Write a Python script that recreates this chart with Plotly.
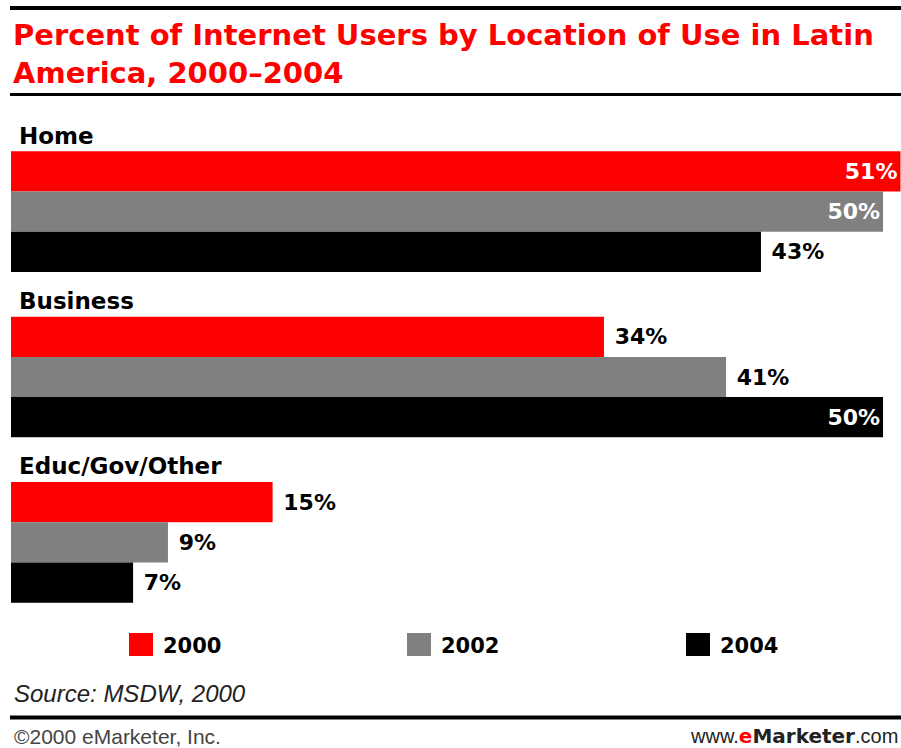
import plotly.graph_objects as go

# Data
categories = ["Home", "Business", "Educ/Gov/Other"]
years = ["2000", "2002", "2004"]
values_2000 = [51, 34, 15]
values_2002 = [50, 41, 9]
values_2004 = [43, 50, 7]
series_values = [values_2000, values_2002, values_2004]
colors = ["#FF0000", "#808080", "#000000"]

title_text = "Percent of Internet Users by Location of Use in Latin<br>America, 2000\u20132004"
source_text = "Source: MSDW, 2000"
copyright_text = "\u00a92000 eMarketer, Inc."

# Canvas geometry (pixels)
W, H = 901, 748
L, R, T, B = 11, 0, 129, 123
plot_w = W - L - R
plot_h = H - T - B


def px(x):
    return (x - L) / plot_w


def py(y):
    return (H - B - y) / plot_h


fig = go.Figure()
for year, vals, col in zip(years, series_values, colors):
    inside = [v >= 50 for v in vals]
    fig.add_trace(go.Bar(
        y=categories,
        x=vals,
        name=year,
        orientation="h",
        marker=dict(color=col, line=dict(width=0)),
        text=[f"<b>{v}%</b>" if ins else f"<b>\u00a0{v}%</b>" for v, ins in zip(vals, inside)],
        textposition=["inside" if ins else "outside" for ins in inside],
        insidetextanchor="end",
        textangle=0,
        constraintext="none",
        textfont=dict(family="DejaVu Sans", size=22,
                      color=["#FFFFFF" if ins else "#000000" for ins in inside]),
        cliponaxis=False,
        showlegend=False,
    ))

fig.update_layout(
    width=W, height=H,
    margin=dict(l=L, r=R, t=T, b=B),
    paper_bgcolor="white",
    plot_bgcolor="white",
    barmode="group",
    bargap=0.27,
    bargroupgap=0,
    xaxis=dict(range=[0, 51.03], visible=False, fixedrange=True),
    yaxis=dict(range=[len(categories) - 0.5, -0.5], visible=False, fixedrange=True),
)

annotations = []
shapes = []

# Title
annotations.append(dict(
    text=f"<b>{title_text}</b>", xref="paper", yref="paper",
    x=px(11), y=py(16), xanchor="left", yanchor="top", align="left",
    showarrow=False,
    font=dict(family="DejaVu Sans", size=29, color="#FF0000"),
))

# Rules
for y0, w in [(8, 4), (94.5, 3), (717.5, 4)]:
    shapes.append(dict(type="line", xref="paper", yref="paper",
                       x0=px(10), x1=px(901), y0=py(y0), y1=py(y0),
                       line=dict(color="#000000", width=w)))

# Category labels above each group
for cat in categories:
    annotations.append(dict(
        text=f"<b>{cat}</b>", xref="paper", yref="y",
        x=px(17), y=cat, xanchor="left", yanchor="middle", yshift=76,
        showarrow=False,
        font=dict(family="DejaVu Sans", size=23, color="#000000"),
    ))

# Legend
legend_x = [129, 407, 686]
for year, col, lx in zip(years, colors, legend_x):
    shapes.append(dict(type="rect", xref="paper", yref="paper",
                       x0=px(lx), x1=px(lx + 24), y0=py(656), y1=py(633),
                       fillcolor=col, line=dict(width=0)))
    annotations.append(dict(
        text=f"<b>{year}</b>", xref="paper", yref="paper",
        x=px(lx + 32), y=py(646), xanchor="left", yanchor="middle",
        showarrow=False,
        font=dict(family="DejaVu Sans", size=21, color="#000000"),
    ))

# Source and footer
annotations.append(dict(
    text=f"<i>{source_text}</i>", xref="paper", yref="paper",
    x=px(12), y=py(693), xanchor="left", yanchor="middle",
    showarrow=False,
    font=dict(family="Liberation Sans", size=24, color="#222222"),
))
annotations.append(dict(
    text=copyright_text, xref="paper", yref="paper",
    x=px(12), y=py(736), xanchor="left", yanchor="middle",
    showarrow=False,
    font=dict(family="Liberation Sans", size=21, color="#444444"),
))
annotations.append(dict(
    text=("www.<span style='font-family:DejaVu Sans'>"
          "<span style='color:#FF0000'><b>e</b></span><b>Marketer</b></span>.com"),
    xref="paper", yref="paper",
    x=px(900), y=py(736), xanchor="right", yanchor="middle",
    showarrow=False,
    font=dict(family="Liberation Sans", size=20, color="#222222"),
))

fig.update_layout(annotations=annotations, shapes=shapes)
fig.write_html("out.html")
